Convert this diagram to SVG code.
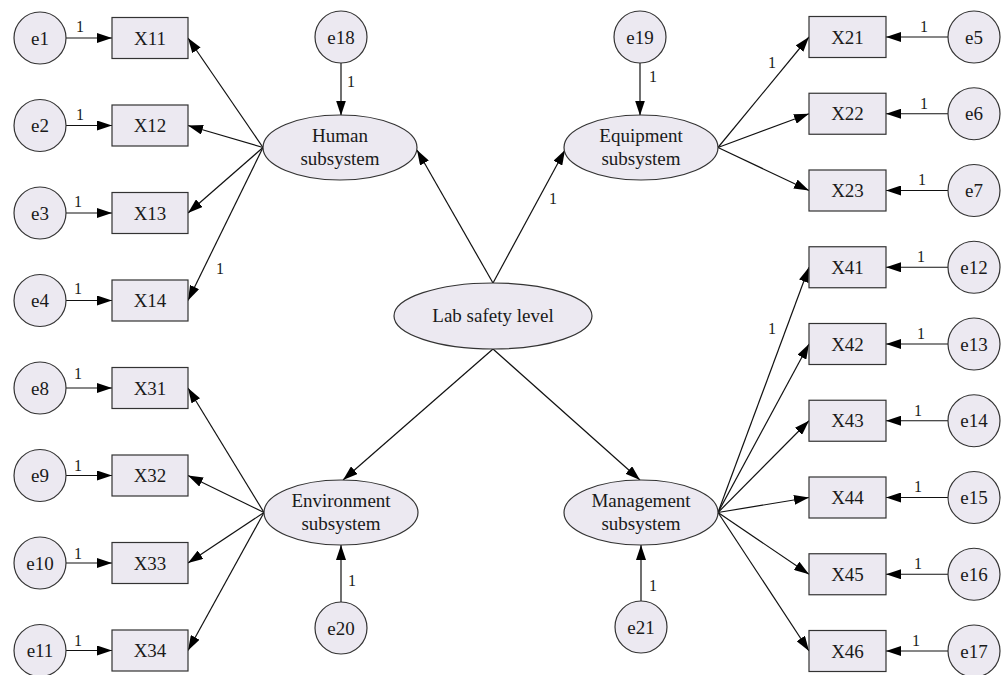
<svg xmlns="http://www.w3.org/2000/svg" width="1005" height="675" viewBox="0 0 1005 675">
<defs>
<marker id="ah" markerUnits="userSpaceOnUse" markerWidth="15" markerHeight="10" refX="15" refY="5" orient="auto">
<path d="M0,0 L15,5 L0,10 z" fill="#000"/>
</marker>
<style>
.n{fill:#ECE9F1;stroke:#333;stroke-width:1.2}
.t{font-family:"Liberation Serif",serif;font-size:19px;fill:#1a1a1a;text-anchor:middle}
.l{font-family:"Liberation Serif",serif;font-size:16px;fill:#1a1a1a;text-anchor:middle}
.c line{stroke:#111;stroke-width:1.2;marker-end:url(#ah)}
</style>
</defs>
<rect width="1005" height="675" fill="#fff"/>

<g class="c" id="connectors">
<line x1="66" y1="38" x2="112" y2="38"/>
<line x1="66" y1="125.5" x2="112" y2="125.5"/>
<line x1="66" y1="213" x2="112" y2="213"/>
<line x1="66" y1="300.5" x2="112" y2="300.5"/>
<line x1="66" y1="388" x2="112" y2="388"/>
<line x1="66" y1="475.5" x2="112" y2="475.5"/>
<line x1="66" y1="563" x2="112" y2="563"/>
<line x1="66" y1="650.5" x2="112" y2="650.5"/>
<line x1="948" y1="37" x2="886" y2="37"/>
<line x1="948" y1="113.75" x2="886" y2="113.75"/>
<line x1="948" y1="190.5" x2="886" y2="190.5"/>
<line x1="948" y1="267.25" x2="886" y2="267.25"/>
<line x1="948" y1="344" x2="886" y2="344"/>
<line x1="948" y1="420.75" x2="886" y2="420.75"/>
<line x1="948" y1="497.5" x2="886" y2="497.5"/>
<line x1="948" y1="574.25" x2="886" y2="574.25"/>
<line x1="948" y1="651" x2="886" y2="651"/>
<line x1="263" y1="147.5" x2="188" y2="38"/>
<line x1="263" y1="147.5" x2="188" y2="125.5"/>
<line x1="263" y1="147.5" x2="188" y2="213"/>
<line x1="263" y1="147.5" x2="188" y2="300.5"/>
<line x1="264" y1="512.5" x2="188" y2="388"/>
<line x1="264" y1="512.5" x2="188" y2="475.5"/>
<line x1="264" y1="512.5" x2="188" y2="563"/>
<line x1="264" y1="512.5" x2="188" y2="650.5"/>
<line x1="718" y1="147.5" x2="809" y2="37"/>
<line x1="718" y1="147.5" x2="809" y2="113.75"/>
<line x1="718" y1="147.5" x2="809" y2="190.5"/>
<line x1="718" y1="512.5" x2="809" y2="267.25"/>
<line x1="718" y1="512.5" x2="809" y2="344"/>
<line x1="718" y1="512.5" x2="809" y2="420.75"/>
<line x1="718" y1="512.5" x2="809" y2="497.5"/>
<line x1="718" y1="512.5" x2="809" y2="574.25"/>
<line x1="718" y1="512.5" x2="809" y2="651"/>
<line x1="341" y1="63" x2="341" y2="115.5"/>
<line x1="640" y1="63" x2="640" y2="115.5"/>
<line x1="341" y1="602" x2="341" y2="545"/>
<line x1="641" y1="601" x2="641" y2="545"/>
<line x1="493" y1="283" x2="417" y2="150"/>
<line x1="493" y1="283" x2="565" y2="150"/>
<line x1="493" y1="349" x2="343" y2="480"/>
<line x1="493" y1="349" x2="640" y2="480"/>
</g>

<g id="labels">
<text class="l" x="80" y="32">1</text>
<text class="l" x="80" y="120">1</text>
<text class="l" x="78" y="207">1</text>
<text class="l" x="78" y="294">1</text>
<text class="l" x="78" y="379">1</text>
<text class="l" x="78" y="471">1</text>
<text class="l" x="78" y="559">1</text>
<text class="l" x="78" y="646">1</text>
<text class="l" x="924" y="32">1</text>
<text class="l" x="924" y="109">1</text>
<text class="l" x="922" y="185">1</text>
<text class="l" x="921" y="262">1</text>
<text class="l" x="921" y="339">1</text>
<text class="l" x="918" y="416">1</text>
<text class="l" x="918" y="492">1</text>
<text class="l" x="918" y="569">1</text>
<text class="l" x="916" y="646">1</text>
<text class="l" x="220" y="274">1</text>
<text class="l" x="772" y="68">1</text>
<text class="l" x="553" y="204">1</text>
<text class="l" x="772" y="334">1</text>
<text class="l" x="351" y="87">1</text>
<text class="l" x="653" y="82">1</text>
<text class="l" x="352" y="586">1</text>
<text class="l" x="653" y="591">1</text>
</g>

<g id="Lab"><ellipse class="n" cx="493" cy="316" rx="99" ry="33"/><text class="t" x="493" y="322">Lab safety level</text></g>
<g id="Human"><ellipse class="n" cx="340" cy="147.5" rx="77" ry="32.5"/><text class="t" x="340" y="142">Human</text><text class="t" x="340" y="165">subsystem</text></g>
<g id="Equipment"><ellipse class="n" cx="641" cy="147.5" rx="77" ry="32.5"/><text class="t" x="641" y="142">Equipment</text><text class="t" x="641" y="165">subsystem</text></g>
<g id="Environment"><ellipse class="n" cx="341" cy="512.5" rx="77" ry="32.5"/><text class="t" x="341" y="507">Environment</text><text class="t" x="341" y="530">subsystem</text></g>
<g id="Management"><ellipse class="n" cx="641" cy="512.5" rx="77" ry="32.5"/><text class="t" x="641" y="507">Management</text><text class="t" x="641" y="530">subsystem</text></g>

<g id="X11"><rect class="n" x="112" y="17.5" width="76" height="41"/><text class="t" x="150" y="44.5">X11</text></g>
<g id="X12"><rect class="n" x="112" y="105" width="76" height="41"/><text class="t" x="150" y="132">X12</text></g>
<g id="X13"><rect class="n" x="112" y="192.5" width="76" height="41"/><text class="t" x="150" y="219.5">X13</text></g>
<g id="X14"><rect class="n" x="112" y="280" width="76" height="41"/><text class="t" x="150" y="307">X14</text></g>
<g id="X31"><rect class="n" x="112" y="367.5" width="76" height="41"/><text class="t" x="150" y="394.5">X31</text></g>
<g id="X32"><rect class="n" x="112" y="455" width="76" height="41"/><text class="t" x="150" y="482">X32</text></g>
<g id="X33"><rect class="n" x="112" y="542.5" width="76" height="41"/><text class="t" x="150" y="569.5">X33</text></g>
<g id="X34"><rect class="n" x="112" y="630" width="76" height="41"/><text class="t" x="150" y="657">X34</text></g>

<g id="X21"><rect class="n" x="809" y="16.5" width="77" height="41"/><text class="t" x="847.5" y="43.5">X21</text></g>
<g id="X22"><rect class="n" x="809" y="93.25" width="77" height="41"/><text class="t" x="847.5" y="120.25">X22</text></g>
<g id="X23"><rect class="n" x="809" y="170" width="77" height="41"/><text class="t" x="847.5" y="197">X23</text></g>
<g id="X41"><rect class="n" x="809" y="246.75" width="77" height="41"/><text class="t" x="847.5" y="273.75">X41</text></g>
<g id="X42"><rect class="n" x="809" y="323.5" width="77" height="41"/><text class="t" x="847.5" y="350.5">X42</text></g>
<g id="X43"><rect class="n" x="809" y="400.25" width="77" height="41"/><text class="t" x="847.5" y="427.25">X43</text></g>
<g id="X44"><rect class="n" x="809" y="477" width="77" height="41"/><text class="t" x="847.5" y="504">X44</text></g>
<g id="X45"><rect class="n" x="809" y="553.75" width="77" height="41"/><text class="t" x="847.5" y="580.75">X45</text></g>
<g id="X46"><rect class="n" x="809" y="630.5" width="77" height="41"/><text class="t" x="847.5" y="657.5">X46</text></g>

<g id="e1"><circle class="n" cx="40" cy="38" r="26"/><text class="t" x="40" y="44.5">e1</text></g>
<g id="e2"><circle class="n" cx="40" cy="125.5" r="26"/><text class="t" x="40" y="132">e2</text></g>
<g id="e3"><circle class="n" cx="40" cy="213" r="26"/><text class="t" x="40" y="219.5">e3</text></g>
<g id="e4"><circle class="n" cx="40" cy="300.5" r="26"/><text class="t" x="40" y="307">e4</text></g>
<g id="e8"><circle class="n" cx="40" cy="388" r="26"/><text class="t" x="40" y="394.5">e8</text></g>
<g id="e9"><circle class="n" cx="40" cy="475.5" r="26"/><text class="t" x="40" y="482">e9</text></g>
<g id="e10"><circle class="n" cx="40" cy="563" r="26"/><text class="t" x="40" y="569.5">e10</text></g>
<g id="e11"><circle class="n" cx="40" cy="650.5" r="26"/><text class="t" x="40" y="657">e11</text></g>

<g id="e5"><circle class="n" cx="974" cy="37" r="26"/><text class="t" x="974" y="43.5">e5</text></g>
<g id="e6"><circle class="n" cx="974" cy="113.75" r="26"/><text class="t" x="974" y="120.25">e6</text></g>
<g id="e7"><circle class="n" cx="974" cy="190.5" r="26"/><text class="t" x="974" y="197">e7</text></g>
<g id="e12"><circle class="n" cx="974" cy="267.25" r="26"/><text class="t" x="974" y="273.75">e12</text></g>
<g id="e13"><circle class="n" cx="974" cy="344" r="26"/><text class="t" x="974" y="350.5">e13</text></g>
<g id="e14"><circle class="n" cx="974" cy="420.75" r="26"/><text class="t" x="974" y="427.25">e14</text></g>
<g id="e15"><circle class="n" cx="974" cy="497.5" r="26"/><text class="t" x="974" y="504">e15</text></g>
<g id="e16"><circle class="n" cx="974" cy="574.25" r="26"/><text class="t" x="974" y="580.75">e16</text></g>
<g id="e17"><circle class="n" cx="974" cy="651" r="26"/><text class="t" x="974" y="657.5">e17</text></g>

<g id="e18"><circle class="n" cx="341" cy="37" r="26"/><text class="t" x="341" y="43.5">e18</text></g>
<g id="e19"><circle class="n" cx="640" cy="37" r="26"/><text class="t" x="640" y="43.5">e19</text></g>
<g id="e20"><circle class="n" cx="341" cy="628" r="26"/><text class="t" x="341" y="634.5">e20</text></g>
<g id="e21"><circle class="n" cx="641" cy="627" r="26"/><text class="t" x="641" y="633.5">e21</text></g>
</svg>
